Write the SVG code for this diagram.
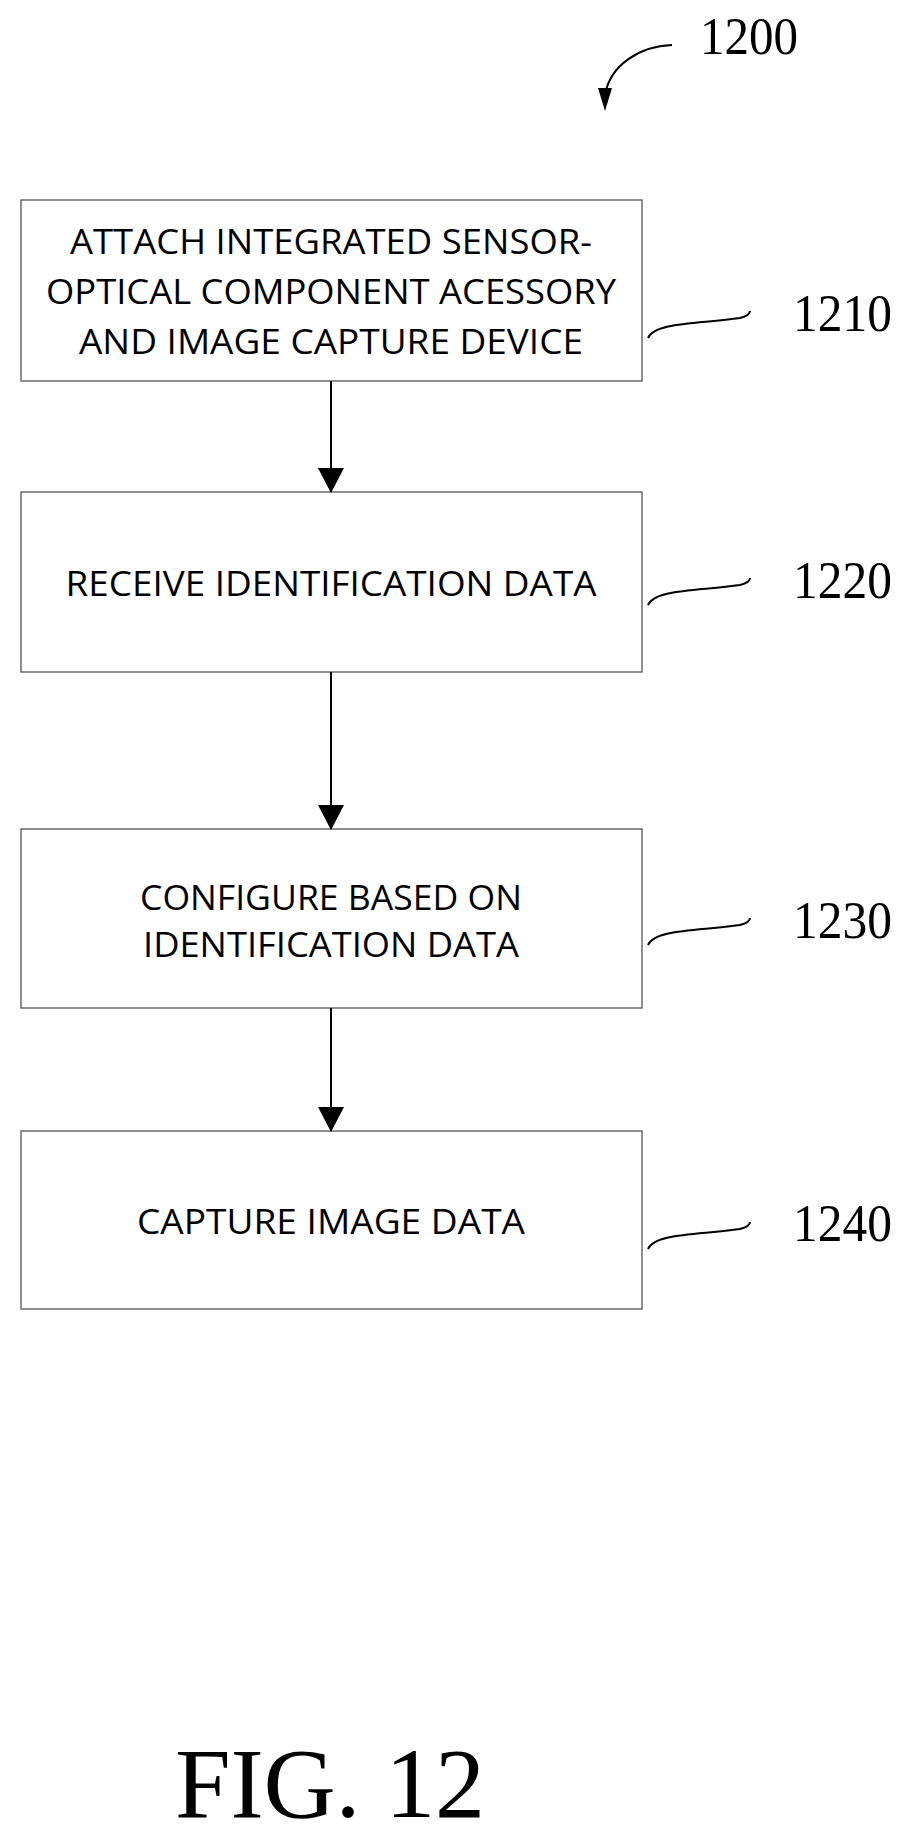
<svg xmlns="http://www.w3.org/2000/svg" width="908" height="1836" viewBox="0 0 908 1836">
<style>
.box{fill:#fff;stroke:#555;stroke-width:1.3}
.t{font-family:"Open Sans","DejaVu Sans",sans-serif;font-size:35px;fill:#000;text-anchor:middle}
.n{font-family:"Liberation Serif",serif;font-size:52px;fill:#000}
.ln{fill:none;stroke:#000;stroke-width:2}
</style>
<defs><marker id="ah" markerWidth="26" markerHeight="26" refX="24" refY="13" orient="auto" markerUnits="userSpaceOnUse"><path d="M0,0 L25,13 L0,26 Z" fill="#000"/></marker></defs>
<rect width="908" height="1836" fill="#fff"/>
<g id="n1210"><rect class="box" x="21" y="200" width="621" height="181"/>
<text class="t" x="331" y="254" textLength="522" lengthAdjust="spacingAndGlyphs">ATTACH INTEGRATED SENSOR-</text>
<text class="t" x="331" y="304" textLength="570" lengthAdjust="spacingAndGlyphs">OPTICAL COMPONENT ACESSORY</text>
<text class="t" x="331" y="354" textLength="504" lengthAdjust="spacingAndGlyphs">AND IMAGE CAPTURE DEVICE</text></g>
<g id="n1220"><rect class="box" x="21" y="492" width="621" height="180"/>
<text class="t" x="331" y="596" textLength="531" lengthAdjust="spacingAndGlyphs">RECEIVE IDENTIFICATION DATA</text></g>
<g id="n1230"><rect class="box" x="21" y="829" width="621" height="179"/>
<text class="t" x="331" y="910" textLength="382" lengthAdjust="spacingAndGlyphs">CONFIGURE BASED ON</text>
<text class="t" x="331" y="957" textLength="376" lengthAdjust="spacingAndGlyphs">IDENTIFICATION DATA</text></g>
<g id="n1240"><rect class="box" x="21" y="1131" width="621" height="178"/>
<text class="t" x="331" y="1234" textLength="388" lengthAdjust="spacingAndGlyphs">CAPTURE IMAGE DATA</text></g>
<g id="labels">
<text class="n" x="700" y="54" textLength="98" lengthAdjust="spacingAndGlyphs">1200</text>
<text class="n" x="793" y="331" textLength="99" lengthAdjust="spacingAndGlyphs">1210</text>
<text class="n" x="793" y="598" textLength="99" lengthAdjust="spacingAndGlyphs">1220</text>
<text class="n" x="793" y="938" textLength="99" lengthAdjust="spacingAndGlyphs">1230</text>
<text class="n" x="793" y="1241" textLength="99" lengthAdjust="spacingAndGlyphs">1240</text>
<text x="175" y="1817" font-family="Liberation Serif,serif" font-size="100" textLength="310">FIG. 12</text>
</g>
<g id="connectors">
<line class="ln" x1="331" y1="381" x2="331" y2="492" marker-end="url(#ah)"/>
<line class="ln" x1="331" y1="672" x2="331" y2="829" marker-end="url(#ah)"/>
<line class="ln" x1="331" y1="1008" x2="331" y2="1131" marker-end="url(#ah)"/>
<path class="ln" stroke-width="1.3" d="M672,45 C640,46 610,65 605,95" />
<path d="M598,88 L612,88 L605,111 Z" fill="#000"/>
<path class="ln" d="M648,338 C655,322 700,324 740,318 C748,316 750,313 750,311"/>
<path class="ln" d="M648,605 C655,589 700,591 740,585 C748,583 750,580 750,578"/>
<path class="ln" d="M648,945 C655,929 700,931 740,925 C748,923 750,920 750,918"/>
<path class="ln" d="M648,1249 C655,1233 700,1235 740,1229 C748,1227 750,1224 750,1222"/>
</g>
</svg>
